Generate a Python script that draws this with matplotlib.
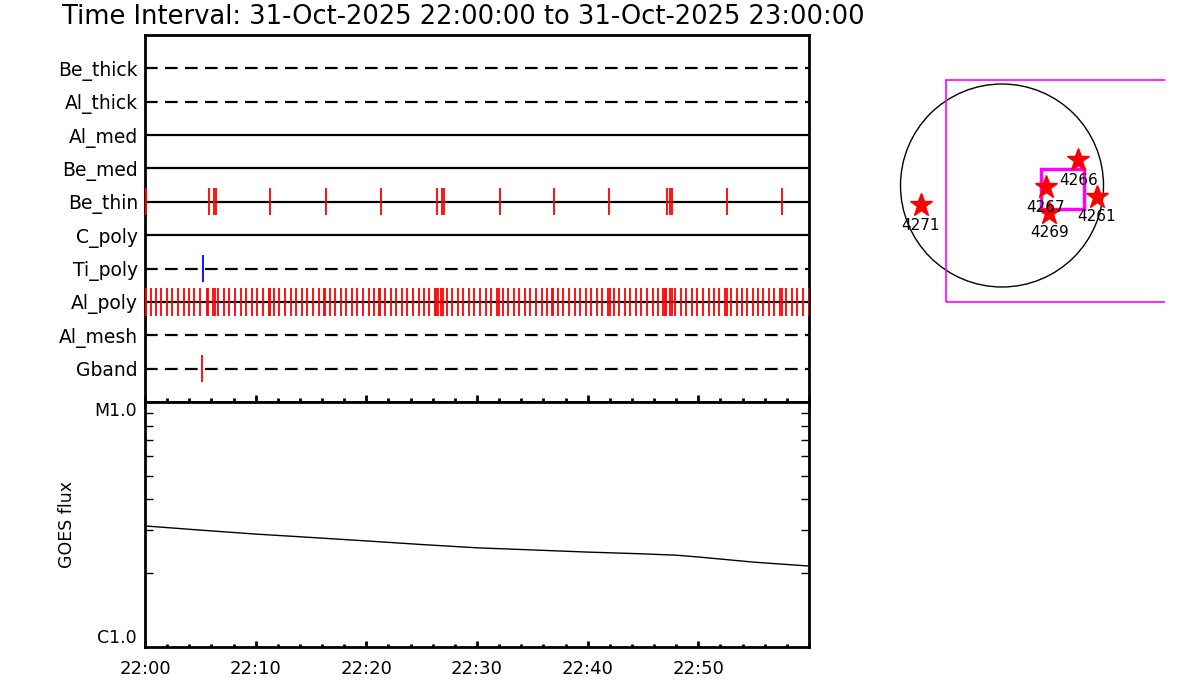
import matplotlib
matplotlib.use("Agg")
import matplotlib.pyplot as plt
import numpy as np
from matplotlib.patches import Circle, Rectangle

# ---------------- data ----------------
title_text = "Time Interval: 31-Oct-2025 22:00:00 to 31-Oct-2025 23:00:00"

channels = ["Be_thick", "Al_thick", "Al_med", "Be_med", "Be_thin",
            "C_poly", "Ti_poly", "Al_poly", "Al_mesh", "Gband"]
channel_dashed = [True, True, False, False, False, False, True, False, True, True]

# event times (minutes after 22:00)
be_thin_times = [0.12, 5.81, 6.23, 6.44, 11.32, 16.38, 21.35, 26.40, 26.86, 27.04,
                 32.04, 36.97, 41.94, 47.13, 47.45, 47.63, 52.60, 57.57]
ti_poly_times = [5.27]
gband_times = [5.18]
al_poly_times = [
    0.12, 0.51, 1.02, 1.48, 2.02, 2.47, 3.01, 3.49, 4.01, 4.46, 5.00, 5.60, 5.72,
    6.17, 6.36, 6.63, 7.17, 7.62, 8.16, 8.64, 9.16, 9.67, 10.15, 10.69, 11.17, 11.27,
    11.69, 12.14, 12.68, 13.19, 13.67, 14.16, 14.67, 15.18, 15.69, 16.20, 16.29,
    16.69, 17.20, 17.68, 18.19, 18.71, 19.19, 19.70, 20.21, 20.72, 21.17, 21.26,
    21.72, 22.20, 22.71, 23.22, 23.70, 24.22, 24.73, 25.24, 25.69, 26.23, 26.32, 26.45,
    26.75, 26.93, 27.26, 27.77, 28.25, 28.73, 29.25, 29.76,
    30.27, 30.81, 31.30, 31.84, 31.96, 32.32, 32.83, 33.31, 33.83, 34.31, 34.82,
    35.33, 35.84, 36.32, 36.78, 36.90, 37.32, 37.80, 38.31, 38.83, 39.31, 39.82,
    40.33, 40.81, 41.33, 41.87, 41.99, 42.38, 42.86, 43.34, 43.86, 44.37, 44.85,
    45.36, 45.87, 46.36, 46.84, 47.00, 47.08, 47.44, 47.65, 47.92, 48.40, 48.92,
    49.40, 49.91, 50.45, 50.93, 51.42, 51.90, 52.44, 52.56, 52.98, 53.46, 53.95,
    54.43, 54.91, 55.39, 55.87, 56.39, 56.87, 57.41, 57.53, 57.95, 58.46, 58.95,
    59.43, 59.97]

goes_minutes = [0, 5, 10, 15, 20, 25, 30, 35, 40, 45, 48, 50, 55, 60]
goes_flux = [3.12e-6, 3.00e-6, 2.89e-6, 2.80e-6, 2.71e-6, 2.62e-6, 2.54e-6,
             2.49e-6, 2.44e-6, 2.40e-6, 2.37e-6, 2.33e-6, 2.22e-6, 2.14e-6]

time_tick_minutes = [0, 10, 20, 30, 40, 50]
time_tick_labels = ["22:00", "22:10", "22:20", "22:30", "22:40", "22:50"]
goes_tick_values = [1e-6, 1e-5]
goes_tick_labels = ["C1.0", "M1.0"]

# solar map (arcsec)
sun_radius = 960
ar_names = ["4266", "4267", "4269", "4261", "4271"]
ar_x = [722, 413, 448, 896, -769]
ar_y = [241, -17, -257, -106, -184]
fov_big = [-533, -1099, 3000, 2094]      # x0, y0, w, h
fov_small = [369, -225, 407, 384]

# ---------------- figure ----------------
W, H = 1200, 700
fig = plt.figure(figsize=(W / 100, H / 100), dpi=100)
plt.rcParams['font.family'] = ['DejaVu Sans']


def px_axes(x0, y0, x1, y1):
    return fig.add_axes([x0 / W, 1 - y1 / H, (x1 - x0) / W, (y1 - y0) / H])


ax1 = px_axes(145, 35, 809, 402)
ax2 = px_axes(145, 402, 809, 647)

# top panel
n = len(channels)
rows = [n - i for i in range(n)]
ax1.set_xlim(0, 60)
ax1.set_ylim(0, n + 1)
for name, y, dashed in zip(channels, rows, channel_dashed):
    ls = (0, (5.7, 3.3)) if dashed else '-'
    ax1.plot([0, 60], [y, y], color='black', lw=1.6, ls=ls, zorder=2)

row_of = dict(zip(channels, rows))
ax1.vlines(be_thin_times, row_of["Be_thin"] - 0.4, row_of["Be_thin"] + 0.4,
           color='red', lw=1.3, zorder=3)
ax1.vlines(al_poly_times, row_of["Al_poly"] - 0.42, row_of["Al_poly"] + 0.42,
           color='red', lw=1.3, zorder=3)
ax1.vlines(ti_poly_times, row_of["Ti_poly"] - 0.4, row_of["Ti_poly"] + 0.4,
           color='blue', lw=1.3, zorder=3)
ax1.vlines(gband_times, row_of["Gband"] - 0.4, row_of["Gband"] + 0.4,
           color='red', lw=1.3, zorder=3)

ax1.set_yticks(rows)
ax1.set_yticklabels(channels, fontsize=13.5)
ax1.tick_params(axis='y', length=0, pad=5)
ax1.set_xticks(np.arange(0, 61, 10))
ax1.set_xticks(np.arange(0, 61, 2), minor=True)
ax1.tick_params(axis='x', which='major', direction='inout', length=10, width=2,
                labelbottom=False)
ax1.tick_params(axis='x', which='minor', direction='inout', length=6, width=2)
for s in ax1.spines.values():
    s.set_linewidth(2)

# bottom panel
ax2.plot(goes_minutes, goes_flux, color='black', lw=1)
ax2.set_yscale('log')
ax2.set_xlim(0, 60)
ax2.set_ylim(1e-6, 1e-5)
ax2.set_xticks(time_tick_minutes)
ax2.set_xticklabels(time_tick_labels, fontsize=13)
ax2.set_xticks(np.arange(0, 61, 2), minor=True)
ax2.tick_params(axis='x', which='major', direction='in', length=4, width=2,
                pad=9, top=False)
ax2.tick_params(axis='x', which='minor', direction='in', length=2.5, width=2,
                top=False)
ax2.set_yticks(goes_tick_values)
ax2.set_yticklabels(goes_tick_labels, fontsize=12.5)
ax2.yaxis.set_minor_formatter(matplotlib.ticker.NullFormatter())
ax2.tick_params(axis='y', which='major', direction='in', length=0, pad=6,
                right=True)
ax2.tick_params(axis='y', which='minor', direction='in', length=6, width=1,
                right=True)
lbls = ax2.get_yticklabels()
lbls[0].set_va('bottom')
lbls[1].set_va('top')
ax2.set_ylabel("GOES flux", fontsize=12.5, labelpad=13)
for s in ax2.spines.values():
    s.set_linewidth(2)

fig.text(62 / W, 1 - 17 / H, title_text, fontsize=18.5, ha='left', va='center')

# right panel: solar disk
scale = sun_radius / 101.5  # arcsec per pixel
cx, cy = 1002, 185.5
axm_x0, axm_x1, axm_y0, axm_y1 = 880, 1165, 60, 320
axm = px_axes(axm_x0, axm_y0, axm_x1, axm_y1)
axm.set_xlim((axm_x0 - cx) * scale, (axm_x1 - cx) * scale)
axm.set_ylim((cy - axm_y1) * scale, (cy - axm_y0) * scale)
axm.axis('off')
axm.add_patch(Circle((0, 0), sun_radius, fill=False, ec='black', lw=1))
axm.add_patch(Rectangle((fov_big[0], fov_big[1]), fov_big[2], fov_big[3],
                        fill=False, ec='#ff00ff', lw=1.2))
axm.add_patch(Rectangle((fov_small[0], fov_small[1]), fov_small[2], fov_small[3],
                        fill=False, ec='#ff00ff', lw=2.5))
axm.plot(ar_x, ar_y, ls='none', marker='*', ms=17, color='red', mec='red')
for nm, x, y in zip(ar_names, ar_x, ar_y):
    axm.text(x, y - 190, nm, fontsize=11, ha='center', va='center')

fig.savefig("out.png", dpi=100)
